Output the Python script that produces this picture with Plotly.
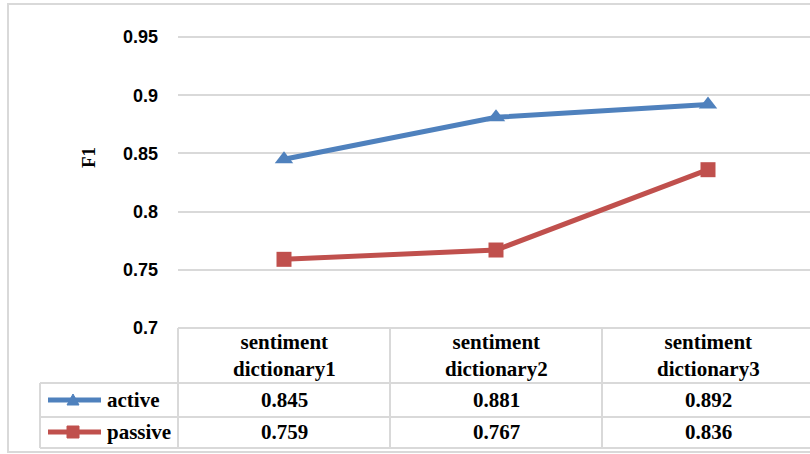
import plotly.graph_objects as go

# Data
categories = ["sentiment<br>dictionary1", "sentiment<br>dictionary2", "sentiment<br>dictionary3"]
series_names = ["active", "passive"]
active = [0.845, 0.881, 0.892]
passive = [0.759, 0.767, 0.836]
y_ticks = [0.7, 0.75, 0.8, 0.85, 0.9, 0.95]
y_tick_labels = ["0.7", "0.75", "0.8", "0.85", "0.9", "0.95"]

W, H = 810, 454
ML, MR, MT, MB = 178, 0, 8, 126
PW, PH = W - ML - MR, H - MT - MB
COL_W = 212  # category width in px

BLUE = "#4F81BD"
RED = "#C0504D"
GRID = "#D9D9D9"
SERIF = "Liberation Serif, Times New Roman, DejaVu Serif, serif"
SANS = "Liberation Sans, Arial, sans-serif"

x_idx = list(range(len(categories)))
x_max = (PW / COL_W) - 0.5


def px(x):
    return (x - ML) / PW


def py(y):
    return (MT + PH - y) / PH


fig = go.Figure()
fig.add_trace(go.Scatter(
    x=x_idx, y=active, mode="lines+markers", name=series_names[0],
    line=dict(color=BLUE, width=5),
    marker=dict(symbol="triangle-up", size=16, color=BLUE),
    showlegend=False,
))
fig.add_trace(go.Scatter(
    x=x_idx, y=passive, mode="lines+markers", name=series_names[1],
    line=dict(color=RED, width=5),
    marker=dict(symbol="square", size=15, color=RED),
    showlegend=False,
))

shapes = []
# outer chart frame
shapes.append(dict(type="rect", xref="paper", yref="paper",
                   x0=px(8), x1=px(W + 5), y0=py(452), y1=py(4),
                   line=dict(color=GRID, width=2), layer="below"))

# data table grid
def hline(y, x0, x1):
    shapes.append(dict(type="line", xref="paper", yref="paper",
                       x0=px(x0), x1=px(x1), y0=py(y), y1=py(y),
                       line=dict(color=GRID, width=2)))


def vline(x, y0, y1):
    shapes.append(dict(type="line", xref="paper", yref="paper",
                       x0=px(x), x1=px(x), y0=py(y0), y1=py(y1),
                       line=dict(color=GRID, width=2)))


hline(328, ML, W)
hline(383, 40, W)
hline(417, 40, W)
hline(448, 40, W)
vline(40, 383, 448)
vline(ML, 328, 448)
for i in range(1, len(categories)):
    vline(ML + COL_W * i, 328, 448)

annotations = []
# header cells
for i, cat in enumerate(categories):
    annotations.append(dict(
        xref="paper", yref="paper", x=px(ML + COL_W * (i + 0.5)), y=py(355),
        text="<b>" + cat.replace("<br>", "</b><br><b>") + "</b>",
        showarrow=False, xanchor="center", yanchor="middle",
        font=dict(family=SERIF, size=21, color="#000000"),
    ))

row_y = [400, 432]
for name, vals, color, sym, yy in [
    (series_names[0], active, BLUE, "tri", row_y[0]),
    (series_names[1], passive, RED, "sq", row_y[1]),
]:
    # legend key
    shapes.append(dict(type="line", xref="paper", yref="paper",
                       x0=px(48), x1=px(101), y0=py(yy), y1=py(yy),
                       line=dict(color=color, width=5)))
    if sym == "tri":
        path = "M {} {} L {} {} L {} {} Z".format(
            px(67), py(yy + 5), px(79), py(yy + 5), px(73), py(yy - 6))
        shapes.append(dict(type="path", xref="paper", yref="paper", path=path,
                           fillcolor=color, line=dict(color=color, width=1)))
    else:
        shapes.append(dict(type="rect", xref="paper", yref="paper",
                           x0=px(67), x1=px(79), y0=py(yy + 6), y1=py(yy - 6),
                           fillcolor=color, line=dict(color=color, width=1)))
    annotations.append(dict(
        xref="paper", yref="paper", x=px(105), y=py(yy),
        text=f"<b>{name}</b>", showarrow=False, xanchor="left", yanchor="middle",
        font=dict(family=SERIF, size=21, color="#000000"),
    ))
    for i, v in enumerate(vals):
        annotations.append(dict(
            xref="paper", yref="paper", x=px(ML + COL_W * (i + 0.5)), y=py(yy),
            text=f"<b>{v:.3f}</b>", showarrow=False, xanchor="center", yanchor="middle",
            font=dict(family=SERIF, size=21, color="#000000"),
        ))

# y-axis title
annotations.append(dict(
    xref="paper", yref="paper", x=px(88), y=py(158),
    text="<b>F1</b>", showarrow=False, textangle=-90, xanchor="center", yanchor="middle",
    font=dict(family=SERIF, size=19, color="#000000"),
))

fig.update_layout(
    width=W, height=H,
    margin=dict(l=ML, r=MR, t=MT, b=MB),
    paper_bgcolor="white", plot_bgcolor="white",
    shapes=shapes, annotations=annotations,
    xaxis=dict(range=[-0.5, x_max], showticklabels=False, showgrid=False,
               zeroline=False, showline=False, fixedrange=True),
    yaxis=dict(range=[0.7, 0.7 + PH / 1164], tickvals=y_ticks,
               ticktext=[f"<b>{t}</b>" for t in y_tick_labels],
               showgrid=True, gridcolor=GRID, gridwidth=2, zeroline=False,
               showline=False, ticks="", ticklabelstandoff=19,
               tickfont=dict(family=SANS, size=18, color="#000000")),
)

fig.write_html("out.html")
